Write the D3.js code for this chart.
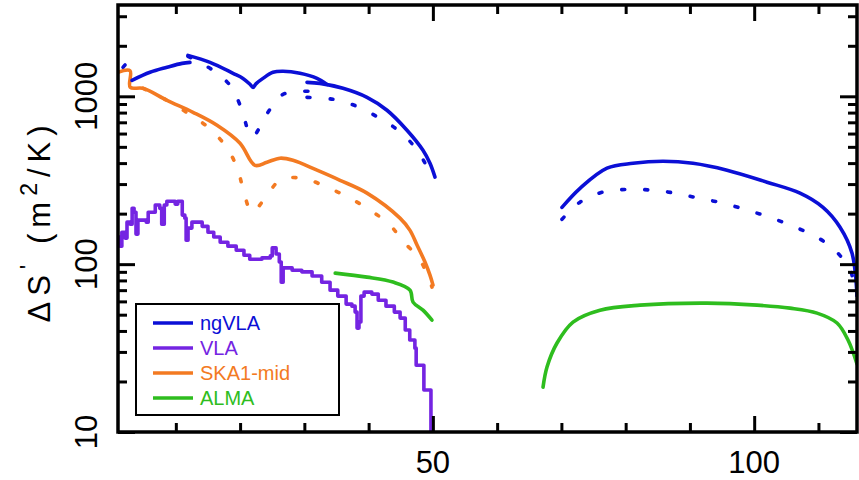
<!DOCTYPE html>
<html><head><meta charset="utf-8">
<script src="https://cdn.jsdelivr.net/npm/d3@7"></script>
<style>body{margin:0;background:#fff}svg{display:block}</style>
</head><body>
<svg id="c" width="859" height="480"></svg>
<script>
// ---------- data (frequency GHz, ΔS' m^2/K) ----------
const xDomain = [1, 116];
const yDomain = [10, 3500];
const xMajorTicks = [50, 100];
const xMinorTicks = [10, 20, 30, 40, 60, 70, 80, 90, 110];
const yMajorTicks = [10, 100, 1000];
const yMinorTicks = [20,30,40,50,60,70,80,90,200,300,400,500,600,700,800,900,2000,3000];

const ngvlaSolid = [
  [[3.18,1245],[5.98,1390],[8.63,1489],[10.96,1571],[12.2,1593]],
  [[11.89,1754],[15.32,1593],[18.9,1371],[20.45,1279],[21.54,1180],[22.01,1131],[22.5,1190],[23.56,1279],[25.12,1390],[26.68,1409],[29.32,1371],[31.97,1279],[33.52,1178]],
  [[30.41,1211],[32.43,1194],[36.01,1116],[39.75,986],[42.86,826],[45.97,628],[48.46,477],[49.55,399],[50.33,330]],
  [[70.09,218],[72.9,283],[77.1,373],[81.14,399],[85.81,410],[90.48,399],[95.77,363],[101.99,308],[107.13,265],[110.71,218],[113.36,166],[115.23,116],[116,65]]
];
const ngvlaDotted = [
  [[1.78,1489],[2.4,1571],[3.18,1593]],
  [[11.89,1730],[15.78,1429],[18.43,1162],[20.3,826],[21.23,628],[22.01,570],[22.79,628],[24.34,803],[26.68,1028],[30.57,1071]],
  [[30.41,986],[34.46,960],[38.19,872],[41.46,750],[44.57,628],[47.22,497],[49.24,373],[49.86,339]],
  [[70.09,185],[72.9,234],[76.32,268],[80.21,279],[84.1,276],[87.68,265],[91.41,247],[95.15,231],[98.88,210],[102.46,190],[106.04,168],[109.47,147],[112.58,121],[114.92,92],[116,65]]
];
const vlaSolid = [
  [[1.0,145],[1.3,128],[1.6,155],[2.1,143],[2.4,178],[2.9,173],[3.2,215],[3.5,204],[3.8,151],[4.1,183],[5.4,178],[5.7,204],[6.4,204],[6.8,225],[7.5,215],[7.8,173],[8.2,225],[8.6,237],[9.9,228],[10.3,237],[11.0,196],[11.4,188],[11.6,139],[11.9,164],[12.5,178],[13.4,178],[14.1,168],[15.0,155],[15.9,145],[16.9,135],[18.1,128],[19.4,121],[20.6,113],[21.5,107],[23.4,109],[24.7,112],[25.0,125],[25.6,115],[26.1,103],[26.4,78],[26.7,95],[28.1,92],[29.6,90],[31.2,85],[32.7,78],[34.0,70],[35.2,64.5],[36.5,57.8],[37.4,56.2],[37.9,51.8],[38.2,41.6],[38.5,45.2],[38.8,64.5],[39.3,68.1],[40.5,66.3],[41.5,61.0],[42.7,56.2],[44.0,51.8],[44.9,47.7],[45.7,40.5],[46.4,35.3],[47.2,31.6],[47.4,25.0],[48.5,25.0],[48.6,17.8],[49.6,17.8],[49.7,10]]
];
const skaSolid = [
  [[1.0,1390],[2.87,1420],[2.9,1131],[4.89,1116],[8.63,946],[12.67,803],[16.41,672],[19.99,525],[22.32,388],[24.19,405],[26.21,428],[28.23,416],[31.97,363],[35.55,316],[39.75,265],[44.88,188],[46.44,159],[47.53,130],[48.77,103],[49.55,86],[50.02,75]]
];
const skaDotted = [
  [[4.89,1116],[8.63,946],[11.89,792],[15.01,654],[17.65,511],[19.52,378],[20.45,283],[21.85,204],[23.88,247],[26.21,316],[29.79,325],[33.52,287],[36.79,251],[40.22,210],[43.33,171],[45.2,139],[48.0,106],[49.86,73]]
];
const almaSolid = [
  [[34.8,88.4],[39.75,83.7],[43.8,78.2],[46.44,70.0],[46.91,59.4],[48.46,53.2],[49.86,46.4]],
  [[67.14,18.5],[67.76,24.4],[69.32,33.9],[71.81,45.2],[76.01,53.2],[82.23,57.0],[92.66,58.6],[100.44,57.0],[105.58,54.7],[109.78,51.1],[112.89,44.6],[114.6,35.3],[116.0,25.4]]
];
const legendLabels = ["ngVLA", "VLA", "SKA1-mid", "ALMA"];
const colors = {ngVLA:"#0b0fd6", VLA:"#7424e2", SKA:"#f37a22", ALMA:"#2ebd1e"};

// ---------- layout ----------
const m = {l:118, t:5, r:857, b:432};
const svg = d3.select("#c");
const x = d3.scaleLinear().domain(xDomain).range([m.l, m.r]);
const y = d3.scaleLog().domain(yDomain).range([m.b, m.t]);
const FONT = "'Liberation Sans', Arial, Helvetica, sans-serif";

svg.append("defs").append("clipPath").attr("id","clip")
  .append("rect").attr("x",m.l).attr("y",m.t).attr("width",m.r-m.l).attr("height",m.b-m.t);

const smooth = d3.line().x(d=>x(d[0])).y(d=>y(d[1])).curve(d3.curveCatmullRom.alpha(0.5));
const stair = d3.line().x(d=>x(d[0])).y(d=>y(d[1])).curve(d3.curveStepAfter);
const g = svg.append("g").attr("clip-path","url(#clip)");

function draw(segs, color, dotted, gen){
  segs.forEach(s=>{
    g.append("path").attr("d", (gen||smooth)(s)).attr("fill","none")
      .attr("stroke", color).attr("stroke-width", 3.6)
      .attr("stroke-linejoin","round").attr("stroke-linecap", "round")
      .attr("stroke-dasharray", dotted ? "3,20" : null);
  });
}
draw(skaDotted, colors.SKA, true);
draw(ngvlaDotted, colors.ngVLA, true);
draw(almaSolid, colors.ALMA, false);
draw(vlaSolid, colors.VLA, false, stair);
draw(skaSolid, colors.SKA, false);
draw(ngvlaSolid, colors.ngVLA, false);

// ---------- axes ----------
function axisG(axis, tx, ty){
  const a = svg.append("g").attr("transform",`translate(${tx},${ty})`).call(axis);
  a.select(".domain").remove();
  a.selectAll(".tick line").attr("stroke","#000").attr("stroke-width",3);
  a.selectAll("text").remove();
  return a;
}
axisG(d3.axisBottom(x).tickValues(xMajorTicks).tickSize(-16), 0, m.b);
axisG(d3.axisBottom(x).tickValues(xMinorTicks).tickSize(-9), 0, m.b);
axisG(d3.axisTop(x).tickValues(xMajorTicks).tickSize(-16), 0, m.t);
axisG(d3.axisTop(x).tickValues(xMinorTicks).tickSize(-9), 0, m.t);
axisG(d3.axisLeft(y).tickValues(yMajorTicks).tickSize(-17), m.l, 0);
axisG(d3.axisLeft(y).tickValues(yMinorTicks).tickSize(-9), m.l, 0);
axisG(d3.axisRight(y).tickValues(yMajorTicks).tickSize(-17), m.r, 0);
axisG(d3.axisRight(y).tickValues(yMinorTicks).tickSize(-9), m.r, 0);

svg.append("rect").attr("x",m.l).attr("y",m.t).attr("width",m.r-m.l).attr("height",m.b-m.t)
  .attr("fill","none").attr("stroke","#000").attr("stroke-width",3.5);

// tick labels
svg.selectAll(".xl").data(xMajorTicks).enter().append("text")
  .attr("x", d=>x(d)).attr("y", 473).attr("text-anchor","middle")
  .attr("font-family",FONT).attr("font-size",31).text(d=>d);
svg.selectAll(".yl").data(yMajorTicks).enter().append("text")
  .attr("transform", d=>`translate(97,${y(d)}) rotate(-90)`).attr("text-anchor","middle")
  .attr("font-family",FONT).attr("font-size",31).text(d=>d);

// y title
const yt = svg.append("text").attr("transform","translate(50,221) rotate(-90)")
  .attr("text-anchor","middle").attr("font-family",FONT).attr("font-size",31)
  .attr("letter-spacing", 6);
yt.append("tspan").text("ΔS");
yt.append("tspan").attr("dy",-13).attr("font-size",24).text("'");
yt.append("tspan").attr("dy",13).text(" (m");
yt.append("tspan").attr("dy",-13).attr("font-size",23).text("2");
yt.append("tspan").attr("dy",13).text("/K)");

// ---------- legend ----------
const lg = svg.append("g");
lg.append("rect").attr("x",136).attr("y",304).attr("width",203).attr("height",111)
  .attr("fill","#fff").attr("stroke","#000").attr("stroke-width",2);
const lc = [colors.ngVLA, colors.VLA, colors.SKA, colors.ALMA];
legendLabels.forEach((t,i)=>{
  const yy = 323 + i*25;
  lg.append("line").attr("x1",153).attr("x2",193).attr("y1",yy).attr("y2",yy)
    .attr("stroke",lc[i]).attr("stroke-width",3.6);
  lg.append("text").attr("x",200).attr("y",yy+7).attr("font-family",FONT)
    .attr("font-size",20).attr("fill",lc[i]).text(t);
});
</script>
</body></html>
